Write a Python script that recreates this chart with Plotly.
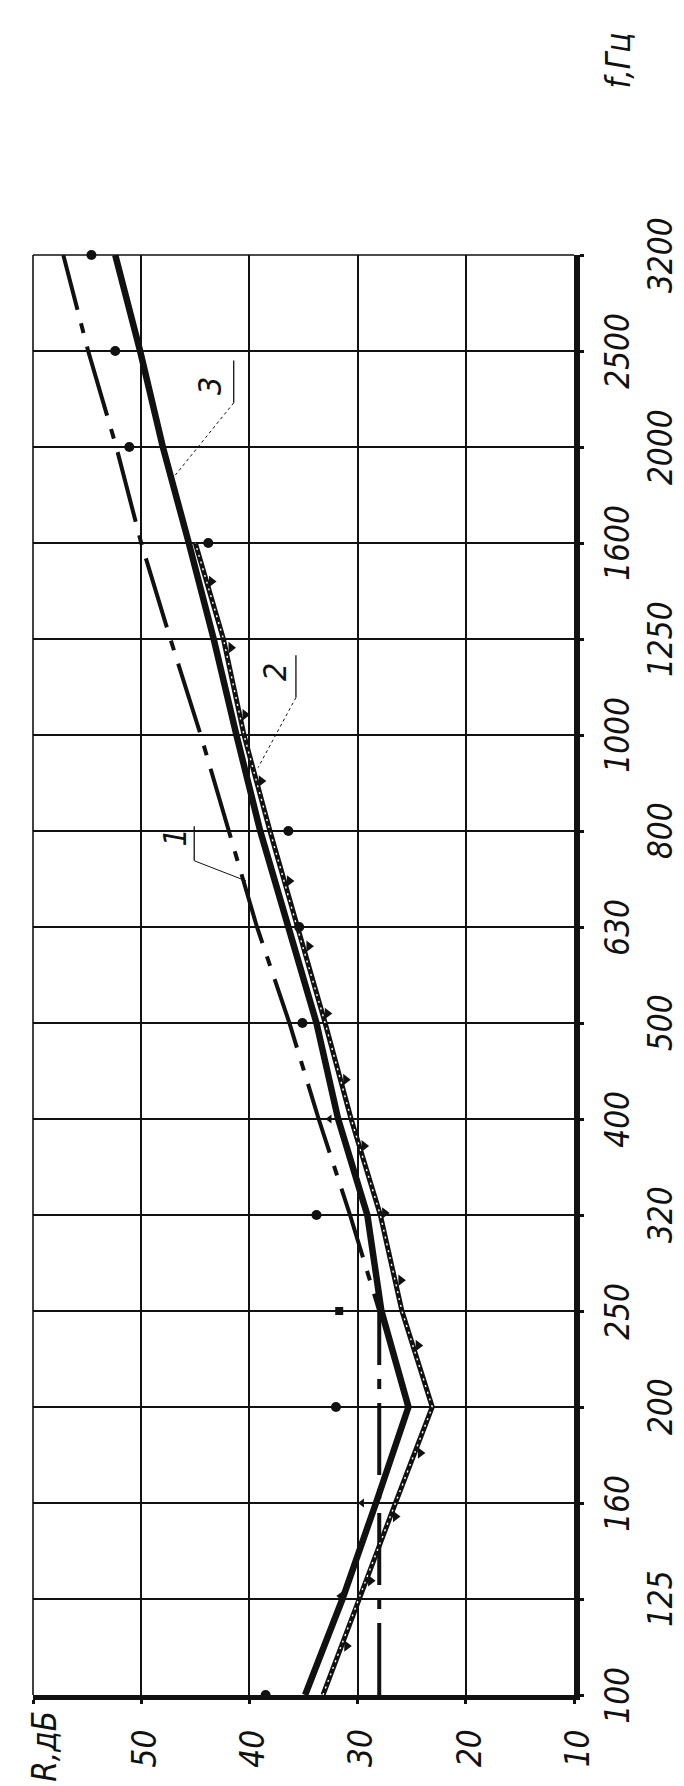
import plotly.graph_objects as go

# ---------------- data ----------------
freq_labels = ["100", "125", "160", "200", "250", "320", "400", "500",
               "630", "800", "1000", "1250", "1600", "2000", "2500", "3200"]
band_idx = list(range(len(freq_labels)))

r_ticks = [10, 20, 30, 40, 50]

# curve 1 (dash-dot)
curve1_R = [28.0, 28.0, 28.0, 28.0, 28.0, 30.7, 33.6, 36.3,
            39.3, 41.9, 44.5, 47.3, 50.0, 52.3, 54.9, 57.2]
# curve 3 (thick solid)
curve3_R = [34.85, 31.4, 28.3, 25.3, 27.8, 29.1, 31.8, 33.8,
            36.4, 39.0, 41.2, 43.3, 45.6, 48.0, 50.1, 52.4]
# curve 2 (double line with triangle marks)
curve2_idx = list(range(13))
curve2_R = [33.2, 29.9, 26.5, 23.1, 25.9, 27.9, 30.6, 33.0,
            35.6, 38.1, 40.5, 42.4, 45.0]
curve2_mark_idx = [0.51, 1.19, 1.86, 2.52, 3.64, 4.32, 5.02, 5.72,
                   6.41, 7.10, 7.80, 8.48, 9.52, 10.21, 10.91, 11.6]
curve2_mark_R = [31.0, 28.8, 26.5, 24.2, 24.4, 26.0, 27.5, 29.4,
                 31.1, 32.8, 34.5, 36.3, 38.9, 40.4, 41.7, 43.5]
curve3_mark_idx = [1.03, 2.0, 6.0]
curve3_mark_R = [31.6, 29.6, 32.6]

# measured points
dots_idx = [0, 3, 5, 7, 8, 9, 12, 13, 14, 15]
dots_R = [38.5, 32.0, 33.8, 35.1, 35.4, 36.4, 43.8, 51.1, 52.4, 54.6]
square_idx = [4]
square_R = [31.7]

# curve number labels: text position, underline bar, leader end
curve_labels = ["1", "2", "3"]
label_R = [46.9, 37.7, 43.7]
label_idx = [8.93, 10.66, 13.64]
bar_R = [45.1, 35.7, 41.45]
bar_idx0 = [8.69, 10.39, 13.46]
bar_idx1 = [9.05, 10.83, 13.9]
leader_R = [40.3, 39.2, 46.9]
leader_idx = [8.48, 9.66, 12.70]
leader_dash = ["solid", "dot", "dot"]

# ---------------- figure ----------------
FONT = "Liberation Sans Narrow, DejaVu Sans Condensed, Liberation Sans, sans-serif"
INK = "#111111"
TICK_SIZE = 33

fig = go.Figure()

fig.add_trace(go.Scatter(x=curve1_R, y=band_idx, mode="lines",
                         line=dict(color=INK, width=4, dash="72px,14px,10px,14px"),
                         showlegend=False, hoverinfo="skip"))
fig.add_trace(go.Scatter(x=curve2_R, y=curve2_idx, mode="lines",
                         line=dict(color=INK, width=5),
                         showlegend=False, hoverinfo="skip"))
fig.add_trace(go.Scatter(x=curve2_R, y=curve2_idx, mode="lines",
                         line=dict(color="white", width=1.4, dash="2px,5px"),
                         showlegend=False, hoverinfo="skip"))
fig.add_trace(go.Scatter(x=curve3_R, y=band_idx, mode="lines",
                         line=dict(color=INK, width=6.5),
                         showlegend=False, hoverinfo="skip"))
fig.add_trace(go.Scatter(x=curve2_mark_R, y=curve2_mark_idx, mode="markers",
                         marker=dict(symbol="triangle-right", size=10, color=INK),
                         showlegend=False, hoverinfo="skip"))
fig.add_trace(go.Scatter(x=curve3_mark_R, y=curve3_mark_idx, mode="markers",
                         marker=dict(symbol="triangle-left", size=8, color=INK),
                         showlegend=False, hoverinfo="skip"))
fig.add_trace(go.Scatter(x=dots_R, y=dots_idx, mode="markers",
                         marker=dict(symbol="circle", size=10, color=INK),
                         showlegend=False, hoverinfo="skip", cliponaxis=False))
fig.add_trace(go.Scatter(x=square_R, y=square_idx, mode="markers",
                         marker=dict(symbol="square", size=8, color=INK),
                         showlegend=False, hoverinfo="skip"))

annotations = []
# frequency tick labels (staggered, rotated)
for i, lab in enumerate(freq_labels):
    annotations.append(dict(x=1.079 if i % 2 == 0 else 1.159, xref="paper",
                            y=band_idx[i], yref="y", text=lab, textangle=-90,
                            showarrow=False, xanchor="center", yanchor="middle",
                            font=dict(family=FONT, size=TICK_SIZE, color=INK, style="italic")))
# R tick labels
for r in r_ticks:
    annotations.append(dict(x=r, xref="x", y=-0.037, yref="paper", text=str(r),
                            textangle=-90, showarrow=False, xshift=3,
                            xanchor="center", yanchor="middle",
                            font=dict(family=FONT, size=TICK_SIZE, color=INK, style="italic")))
annotations.append(dict(x=60, xref="x", y=-0.036, yref="paper", text="R,дБ",
                        textangle=-90, showarrow=False, xshift=12,
                        xanchor="center", yanchor="middle",
                        font=dict(family=FONT, size=TICK_SIZE, color=INK, style="italic")))
annotations.append(dict(x=1.083, xref="paper", y=1.135, yref="paper", text="f,Гц",
                        textangle=-90, showarrow=False,
                        xanchor="center", yanchor="middle",
                        font=dict(family=FONT, size=TICK_SIZE, color=INK, style="italic")))
# curve number labels
for k, t in enumerate(curve_labels):
    annotations.append(dict(x=label_R[k], xref="x", y=label_idx[k], yref="y", text=t,
                            textangle=-90, showarrow=False,
                            xanchor="center", yanchor="middle",
                            font=dict(family=FONT, size=32, color=INK, style="italic")))

shapes = [
    dict(type="line", xref="paper", yref="paper", x0=0, x1=0, y0=0, y1=1,
         line=dict(color=INK, width=1.6)),
    dict(type="line", xref="paper", yref="paper", x0=0, x1=1, y0=1, y1=1,
         line=dict(color=INK, width=1.6)),
]
for k in range(len(curve_labels)):
    shapes.append(dict(type="line", xref="x", yref="y",
                       x0=bar_R[k], x1=bar_R[k], y0=bar_idx0[k], y1=bar_idx1[k],
                       line=dict(color=INK, width=1.3)))
    shapes.append(dict(type="line", xref="x", yref="y",
                       x0=bar_R[k], x1=leader_R[k], y0=bar_idx0[k], y1=leader_idx[k],
                       line=dict(color=INK, width=1, dash=leader_dash[k])))

fig.update_layout(
    width=684, height=1786,
    margin=dict(l=25, r=118, t=247, b=99),
    paper_bgcolor="white", plot_bgcolor="white",
    annotations=annotations, shapes=shapes,
    xaxis=dict(range=[60, 10], tickvals=[10, 20, 30, 40, 50, 60],
               showgrid=True, gridcolor=INK, gridwidth=1.5,
               showline=True, linecolor=INK, linewidth=5,
               ticks="outside", ticklen=4, tickwidth=3, tickcolor=INK,
               showticklabels=False, zeroline=False),
    yaxis=dict(range=[0, 15], tickvals=band_idx, side="right",
               showgrid=True, gridcolor=INK, gridwidth=1.5,
               showline=True, linecolor=INK, linewidth=6,
               ticks="outside", ticklen=4, tickwidth=3, tickcolor=INK,
               showticklabels=False, zeroline=False),
)

fig.write_html("out.html")
